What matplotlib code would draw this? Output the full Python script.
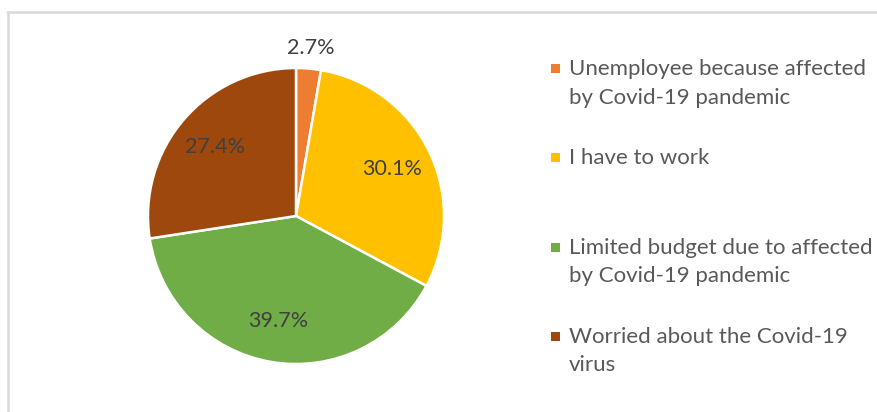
import numpy as np
from matplotlib import pyplot as plt
from matplotlib.lines import Line2D
from matplotlib.patches import Rectangle

W, H = 878, 412

labels = ["Unemployee because affected\nby Covid-19 pandemic",
          "I have to work",
          "Limited budget due to affected\nby Covid-19 pandemic",
          "Worried about the Covid-19\nvirus"]
values = [2.7, 30.1, 39.7, 27.4]
colors = ["#ED7D31", "#FFC000", "#70AD47", "#9E480E"]

plt.rcParams['font.family'] = ['Lato', 'DejaVu Sans']

fig = plt.figure(figsize=(W / 100, H / 100), dpi=100)
fig.patch.set_facecolor("white")

# frame (only left and top edges show in the crop)
fig.add_artist(Line2D([8 / W, 8 / W], [0, 1 - 12 / H], color="#D9D9D9", lw=1.8,
                      transform=fig.transFigure))
fig.add_artist(Line2D([8 / W, 1], [1 - 12 / H, 1 - 12 / H], color="#D9D9D9", lw=1.8,
                      transform=fig.transFigure))

# pie: centre (296, 216) px, radius 148 px
cx, cy, r, half = 296, 216, 148, 150
ax = fig.add_axes([(cx - half) / W, (H - cy - half) / H, 2 * half / W, 2 * half / H])
wedges, _ = ax.pie(values, colors=colors, startangle=90, counterclock=False,
                   wedgeprops=dict(edgecolor="white", linewidth=1.8))
lim = half / r
ax.set_xlim(-lim, lim)
ax.set_ylim(-lim, lim)
ax.axis("off")

for w, v in zip(wedges, values):
    ang = np.deg2rad((w.theta1 + w.theta2) / 2)
    dist = 1.14 if v < 5 else 0.72
    ax.text(dist * np.cos(ang), dist * np.sin(ang), f"{v:.1f}%",
            ha="center", va="center", fontsize=15.5, color="#404040")

# legend drawn by hand: marker aligned with first line
base0, step, line_h = 75, 89.3, 28.5
for i, (lab, col) in enumerate(zip(labels, colors)):
    yb = base0 + i * step
    fig.add_artist(Rectangle((551 / W, 1 - (yb - 2) / H), 9 / W, 9 / H,
                             facecolor=col, edgecolor="none", transform=fig.transFigure))
    for j, line in enumerate(lab.split("\n")):
        fig.text(569 / W, 1 - (yb + j * line_h) / H, line, ha="left", va="baseline",
                 fontsize=16, color="#595959")

fig.savefig("out.png", dpi=100, facecolor="white")
